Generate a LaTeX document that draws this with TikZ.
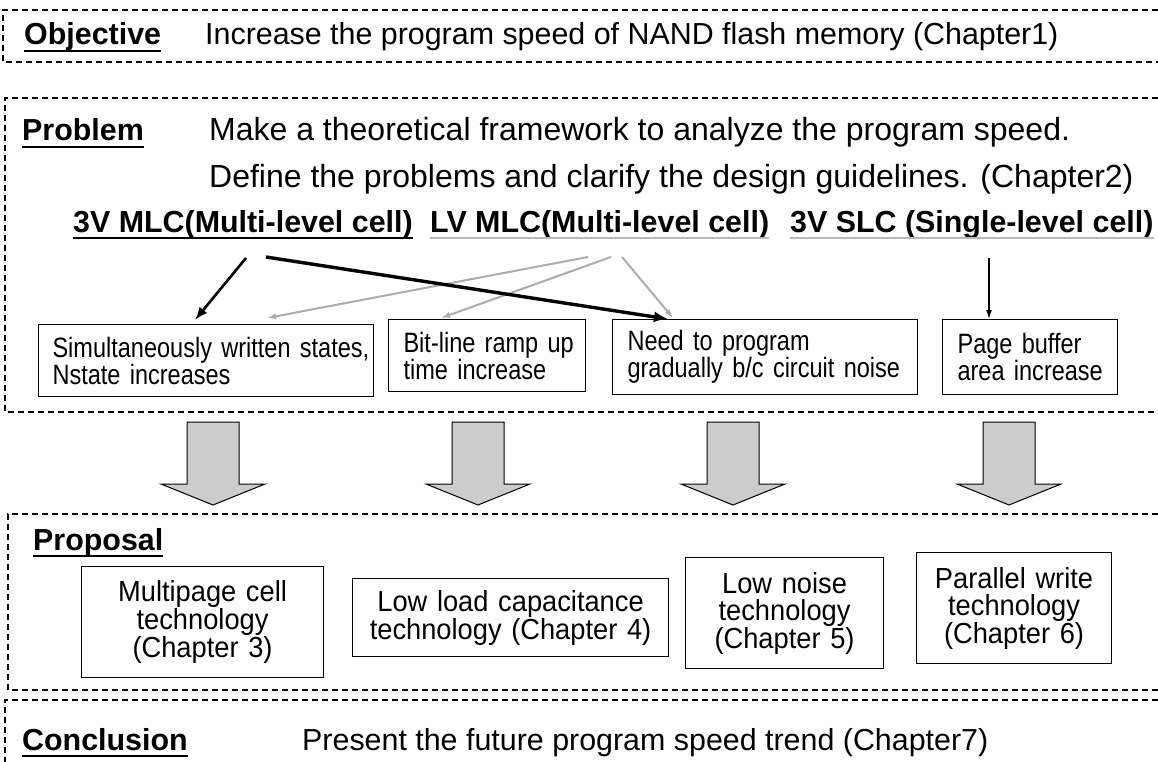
\documentclass[tikz,border=0pt]{standalone}
\usepackage{fontspec}
\setmainfont{Liberation Sans}
\newfontfamily\narrowfont[FakeStretch=0.84,WordSpace=0.84]{Liberation Sans}
\newfontfamily\propfont[FakeStretch=0.94,WordSpace=0.94]{Liberation Sans}
\usetikzlibrary{calc,arrows.meta}

\newcommand{\fsz}[2]{\fontsize{#1}{#2}\selectfont}

\begin{document}
\begin{tikzpicture}[x=1pt,y=-1pt,
  frame/.style={dash pattern=on 6pt off 4pt, line width=1.1pt},
  headtxt/.style={inner sep=0pt, anchor=base west, font=\fsz{30.4}{36}\bfseries},
  bodytxt/.style={inner sep=0pt, anchor=base west, font=\fsz{30.4}{36}},
  cell/.style={draw, line width=1.1pt, anchor=north west, align=left,
    inner xsep=14pt, inner ysep=0pt, font=\narrowfont\fsz{28}{27}},
  prop/.style={draw, line width=1.1pt, anchor=north west, align=center,
    inner xsep=4pt, inner ysep=0pt, font=\propfont\fsz{29}{27}},
  strong/.style={line width=2.6pt, -{Latex[length=13pt,width=10pt]}},
  heavy/.style={line width=3.4pt, -{Latex[length=14pt,width=11pt]}},
  thin/.style={line width=1.3pt, -{Latex[length=9pt,width=6pt]}},
  faint/.style={line width=2pt, draw=gray!65, -{Latex[length=9pt,width=6pt]}},
  uline/.style={line width=2pt},
  bigarrow/.style={fill=gray!40, draw=black, line width=1pt}
]
\useasboundingbox[fill=white] (0,0) rectangle (1158,762);

% dashed section frames
\draw[frame] (1158,10) -- (3,10) -- (3,62) -- (1158,62);
\draw[frame] (1158,98) -- (5,98) -- (5,412) -- (1158,412);
\draw[frame] (1158,514) -- (8,514) -- (8,690) -- (1158,690);
\draw[frame] (1158,700) -- (5,700) -- (5,762);

% Objective
\node[headtxt] (obj) at (24,45) {Objective};
\draw[uline] ([yshift=-6pt]obj.base west) -- ([yshift=-6pt]obj.base east);
\node[bodytxt] (objt) at (205,45) {Increase the program speed of NAND flash memory (Chapter1)};

% Problem
\node[headtxt] (prb) at (22,141) {Problem};
\draw[uline] ([yshift=-6pt]prb.base west) -- ([yshift=-6pt]prb.base east);
\node[bodytxt, font=\fsz{32}{36}] (prb1) at (209,141) {Make a theoretical framework to analyze the program speed.};
\node[bodytxt, font=\fsz{32}{36}] (prb2) at (209,187) {Define the problems and clarify the design guidelines. (Chapter2)};

\node[headtxt] (mlc3) at (73,232) {3V MLC(Multi-level cell)};
\draw[uline] ([yshift=-6pt]mlc3.base west) -- ([yshift=-6pt]mlc3.base east);
\node[headtxt] (mlcl) at (430,232) {LV MLC(Multi-level cell)};
\draw[uline, draw=gray!55] ([yshift=-6pt]mlcl.base west) -- ([yshift=-6pt]mlcl.base east);
\node[headtxt] (slc3) at (790,232) {3V SLC (Single-level cell)};
\draw[uline, draw=gray!55] ([yshift=-6pt]slc3.base west) -- ([yshift=-6pt]slc3.base east);

% problem cells
\node[cell, text width=307pt, minimum height=72pt] (b1) at (38,324)
  {\mbox{Simultaneously written states,}\\\mbox{Nstate increases}};
\node[cell, inner xsep=15pt, text width=167pt, minimum height=72pt] (b2) at (388,319)
  {\mbox{Bit-line ramp up}\\\mbox{time increase}};
\node[cell, inner xsep=15pt, text width=275pt, minimum height=75pt] (b3) at (612,319)
  {\mbox{Need to program}\\\mbox{gradually b/c circuit noise}};
\node[cell, inner xsep=15pt, text width=145pt, minimum height=75pt] (b4) at (942,319)
  {\mbox{Page buffer}\\\mbox{area increase}};

% connectors
\draw[faint] ($(mlcl.base west)+(158,25)$) -- ($(b1.north west)+(229,-6)$);
\draw[faint] ($(mlcl.base west)+(181,25)$) -- ($(b2.north west)+(53,-1)$);
\draw[faint] ($(mlcl.base west)+(192,25)$) -- ($(b3.north west)+(61,-1)$);
\draw[strong] ($(mlc3.base west)+(173,26)$) -- ($(b1.north west)+(157,-4)$);
\draw[heavy] ($(mlc3.base west)+(193,25)$) -- ($(b3.north west)+(56,0)$);
\draw[thin] ($(slc3.base west)+(199,26)$) -- ($(b4.north west)+(47,0)$);

% block arrows between sections
\foreach \c in {213,478,733,1009} {
  \draw[bigarrow] (\c-26,422) -- (\c+26,422) -- (\c+26,484) -- (\c+52,484)
    -- (\c,505) -- (\c-52,484) -- (\c-26,484) -- cycle;
}

% Proposal
\node[headtxt] (prp) at (33,550) {Proposal};
\draw[uline] ([yshift=-6pt]prp.base west) -- ([yshift=-6pt]prp.base east);
\node[prop, text width=234pt, minimum height=111pt] (p1) at (81,566)
  {Multipage cell\\technology\\(Chapter 3)};
\node[prop, text width=308pt, minimum height=78pt] (p2) at (352,578)
  {Low load capacitance\\technology (Chapter 4)};
\node[prop, text width=190pt, minimum height=111pt] (p3) at (685,557)
  {Low noise\\technology\\(Chapter 5)};
\node[prop, text width=187pt, minimum height=111pt] (p4) at (916,552)
  {Parallel write\\technology\\(Chapter 6)};

% Conclusion
\node[headtxt] (cnc) at (22,750) {Conclusion};
\draw[uline] ([yshift=-6pt]cnc.base west) -- ([yshift=-6pt]cnc.base east);
\node[bodytxt] (cnct) at (302,750) {Present the future program speed trend (Chapter7)};
\end{tikzpicture}
\end{document}
